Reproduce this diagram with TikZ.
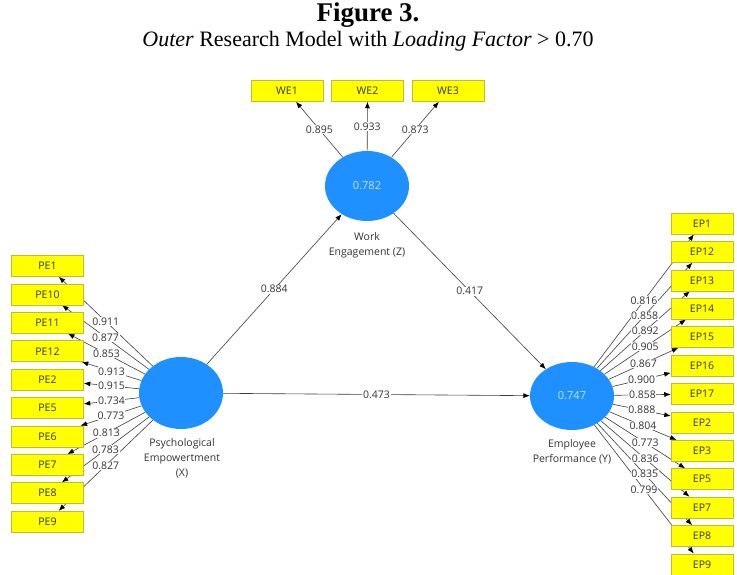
\documentclass[tikz,border=0pt]{standalone}
\usepackage{fontspec}
\setmainfont{Liberation Serif}
\newfontfamily\plsfont{Open Sans}
\usetikzlibrary{arrows.meta,backgrounds,shapes.geometric}

\definecolor{plsblue}{RGB}{30,144,255}
\definecolor{plsinner}{RGB}{205,228,252}
\definecolor{plsyellow}{RGB}{255,255,0}
\definecolor{plsborder}{RGB}{190,190,40}
\definecolor{plstext}{RGB}{50,50,50}
\definecolor{plsline}{RGB}{60,60,60}

\begin{document}
\begin{tikzpicture}[x=1pt,y=-1pt]

    % rozměry obrázku (v pixelech)
    \def\W{737}
    \def\H{575}
    \useasboundingbox (0,0) rectangle (\W,\H);

    % styly
    \tikzset{
        latent/.style={ellipse, fill=plsblue, minimum width=84pt, minimum height=70pt, inner sep=0pt, text=plsinner, font=\plsfont\fontsize{11}{12}\selectfont},
        indicator/.style={rectangle, fill=plsyellow, draw=plsborder, line width=0.5pt, minimum width=72pt, minimum height=21pt, inner sep=0pt, text=plstext, font=\plsfont\fontsize{10.5}{12}\selectfont},
        loading/.style={draw=plsline, line width=0.6pt, -{Latex[length=6.5pt,width=5pt,black]}},
        coef/.style={fill=white, inner sep=0.6pt, text=plstext, font=\plsfont\fontsize{10.5}{12}\selectfont},
        caption/.style={align=center, text=plstext, font=\plsfont\fontsize{10.5}{15}\selectfont}
    }

    % nadpis
    \node[font=\bfseries\fontsize{27}{30}\selectfont] (fig) at (368,15) {Figure 3.};
    \node[font=\fontsize{22}{26}\selectfont] (title) at (368,41) {\textit{Outer} Research Model with \textit{Loading Factor} > 0.70};

    % latentní proměnné
    \node[latent] (we) at (367,186) {0.782};
    \node[latent, minimum height=72pt] (pe) at (181,393) {};
    \node[latent, minimum height=68pt] (ep) at (572,396) {0.747};

    % popisky proměnných
    \node[caption] (wecap) at (367,245) {Work\\Engagement (Z)};
    \node[caption] (pecap) at (182,458) {Psychological\\Empowertment\\(X)};
    \node[caption] (epcap) at (572,452) {Employee\\Performance (Y)};

    % --- indikátory WE ---
    \foreach \name/\val [count=\i from 0] in {WE1/0.895, WE2/0.933, WE3/0.873} {
        \node[indicator] (\name) at (287+80.5*\i,91) {\name};
        \begin{pgfonlayer}{background}
            \draw[loading] (we) -- coordinate[midway] (m\name) (\name);
        \end{pgfonlayer}
        \node[coef] at (m\name) {\val};
    }

    % --- indikátory PE ---
    \foreach \name/\val [count=\i from 0] in {PE1/0.911, PE10/0.877, PE11/0.853, PE12/0.913, PE2/0.915, PE5/0.734, PE6/0.773, PE7/0.813, PE8/0.783, PE9/0.827} {
        \node[indicator] (\name) at (47.5,266+28.4*\i) {\name};
        \begin{pgfonlayer}{background}
            \draw[loading] (pe) -- coordinate[midway] (m\name) (\name);
        \end{pgfonlayer}
        \node[coef] at (m\name) {\val};
    }

    % --- indikátory EP ---
    \foreach \name/\val [count=\i from 0] in {EP1/0.816, EP12/0.858, EP13/0.892, EP14/0.905, EP15/0.867, EP16/0.900, EP17/0.858, EP2/0.888, EP3/0.804, EP5/0.773, EP7/0.836, EP8/0.835, EP9/0.799} {
        \node[indicator, minimum width=62pt] (\name) at (702,223.5+28.4*\i) {\name};
        \begin{pgfonlayer}{background}
            \draw[loading] (ep) -- coordinate[midway] (m\name) (\name);
        \end{pgfonlayer}
        \node[coef] at (m\name) {\val};
    }

    % strukturní cesty
    \draw[loading] (pe) -- node[coef] {0.884} (we);
    \draw[loading] (we) -- node[coef] {0.417} (ep);
    \draw[loading] (pe) -- node[coef] {0.473} (ep);

\end{tikzpicture}
\end{document}
